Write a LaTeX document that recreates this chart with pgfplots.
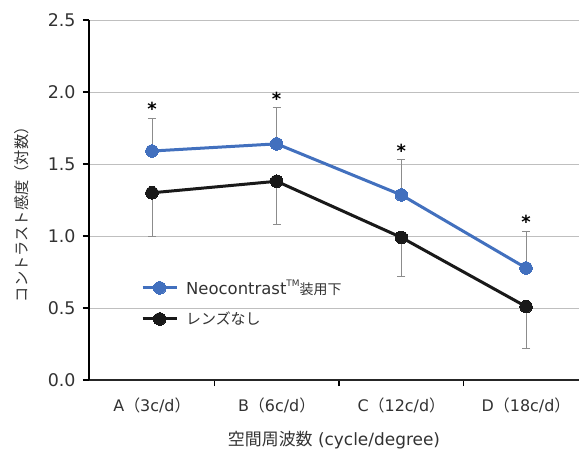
\documentclass[border=0pt]{standalone}
\usepackage{pgfplots}
\pgfplotsset{compat=1.18}
\usepackage{fontspec}
\setmainfont{DejaVu Sans}
\newfontfamily\cjk{Noto Sans CJK JP}
\definecolor{nblue}{RGB}{66,112,190}
\definecolor{nblack}{RGB}{25,25,25}
\definecolor{txt}{RGB}{50,50,50}
\begin{document}
\begin{tikzpicture}
\begin{axis}[
  scale only axis, width=490bp, height=360bp,
  xmin=-0.505, xmax=3.425, ymin=0, ymax=2.5,
  axis x line*=bottom, axis y line*=left,
  x axis line style={line width=2.2bp, draw=black!85, -},
  y axis line style={line width=2.2bp, draw=black, -},
  ytick={0,0.5,1,1.5,2,2.5},
  ymajorgrids, grid style={black!25, line width=0.7bp},
  xtick={0,1,2,3},
  xticklabels={A{\cjk （}3c/d{\cjk ）}, B{\cjk （}6c/d{\cjk ）}, C{\cjk （}12c/d{\cjk ）}, D{\cjk （}18c/d{\cjk ）}},
  major x tick style={draw=none},
  minor xtick={0.5,1.5,2.5},
  minor tick length=6bp, major tick length=6bp,
  tick align=outside,
  tick style={black, line width=1.2bp},
  /pgf/number format/fixed, /pgf/number format/fixed zerofill, /pgf/number format/precision=1,
  /pgf/number format/assume math mode=true,
  yticklabel style={font=\fontsize{17.5}{20}\selectfont, text=txt, xshift=-4bp},
  xticklabel style={font=\fontsize{16}{19}\selectfont, text=txt, yshift=-8bp},
  ylabel={{\cjk コントラスト感度（対数）}},
  ylabel style={at={(axis description cs:-0.137,0.47)}, anchor=center, font=\fontsize{15.3}{17}\selectfont, text=txt},
  xlabel={{\cjk 空間周波数} (cycle/degree)},
  xlabel style={font=\fontsize{17}{20}\selectfont, text=txt, yshift=-12bp},
  legend style={at={(rel axis cs:0.1,0.29)}, anchor=north west, draw=none, fill=none,
    font=\fontsize{16.5}{19}\selectfont, text=txt, row sep=12bp, cells={anchor=west}},
  legend image code/.code={\draw[mark repeat=2,mark phase=2,#1] plot coordinates {(0bp,0bp) (17bp,0bp) (34bp,0bp)};},
]
\addplot[nblue, line width=3bp, mark=*, mark size=6.3bp, mark options={line width=0bp},
  error bars/.cd, y dir=plus, y explicit,
  error bar style={black!45, line width=0.8bp},
  error mark options={rotate=90, black!45, mark size=4bp, line width=0.8bp}]
  table[x=x, y=y, y error plus=e] {
x y e
0 1.59 0.23
1 1.64 0.25
2 1.285 0.245
3 0.778 0.257
};
\addlegendentry{\hspace{6bp}Neocontrast\raisebox{0.9ex}{\fontsize{9}{10}\selectfont TM}{\cjk\fontsize{14}{17}\selectfont 装用下}}
\addplot[nblack, line width=3bp, mark=*, mark size=6.3bp, mark options={line width=0bp},
  error bars/.cd, y dir=minus, y explicit,
  error bar style={black!45, line width=0.8bp},
  error mark options={rotate=90, black!45, mark size=4bp, line width=0.8bp}]
  table[x=x, y=y, y error minus=e] {
x y e
0 1.30 0.30
1 1.38 0.30
2 0.99 0.27
3 0.51 0.29
};
\addlegendentry{\hspace{6bp}{\cjk\fontsize{15}{17}\selectfont レンズなし}}
\addplot[draw=none, forget plot, nodes near coords={\textbf{*}},
  nodes near coords style={anchor=south, font=\fontsize{18}{19}\selectfont, text=black, inner sep=2bp}]
  coordinates {(0,1.82) (1,1.89) (2,1.53) (3,1.035)};
\end{axis}
\pgfresetboundingbox
\path (current axis.south west) ++(-89bp,-75bp) coordinate (bl);
\path (current axis.north east) ++(0bp,20bp) coordinate (tr);
\useasboundingbox (bl) rectangle (tr);
\end{tikzpicture}
\end{document}
